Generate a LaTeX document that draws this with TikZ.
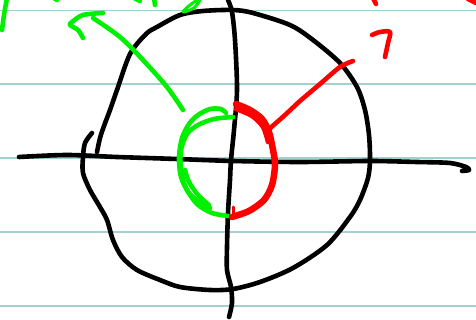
\documentclass[tikz,border=0pt]{standalone}
\definecolor{Rule}{HTML}{A3D0D0}
\definecolor{Ink}{HTML}{000000}
\definecolor{Green}{HTML}{00F000}
\definecolor{Red}{HTML}{FF0000}

\begin{document}
\begin{tikzpicture}[
  x=1pt,y=-1pt,
  rule/.style={draw=Rule,line width=1.8pt},
  ink/.style={line width=4.6pt,line cap=round,line join=round},
  pen/.style={ink,draw=Green},
  marker/.style={ink,draw=Red}
]
  \fill[white] (0,0) rectangle (476,320);
  \useasboundingbox (0,0) rectangle (476,320);
  % ruled paper
  \foreach \y in {10.5,84,158,232,306}
    \draw[rule] (0,\y) -- (476,\y);
  % axes
  \draw[ink] plot[smooth] coordinates {(19,157) (67,155) (117,157) (177,159) (233,161) (300,162) (370,161) (417,162) (450,163) (466,167) (469,170) (462,171)};
  \draw[ink] plot[smooth] coordinates {(228,0) (232,12) (235,40) (237,90) (234,130) (231,160) (230,180) (228,213) (227,247) (227,270) (231,287) (232,303) (229,317)};
  % big circle
  \draw[ink] plot[smooth] coordinates {(97,152) (100,138) (104,126) (110,110) (117,90) (130,54) (146,34) (157,27) (180,15) (203,11) (233,10) (253,13) (290,25) (313,40) (340,63) (357,87) (365,110) (369,135) (370,160) (368,178) (360,200) (350,217) (327,245) (293,268) (260,282) (233,289) (210,290) (180,287) (160,280) (137,270) (122,257) (113,240) (107,220) (100,207) (90,190) (83,173) (83,157) (85,143) (92,133)};
  % green half and arrow
  \draw[pen] plot[smooth] coordinates {(233,117) (214,119) (198,125) (187,134) (181,150) (181,170) (186,188) (197,204) (212,213) (228,216)};
  \draw[pen] plot[smooth] coordinates {(226,113) (221,109) (210,109) (198,115) (189,124) (182,138) (179,157) (181,177) (189,193) (202,204) (210,208)};
  \draw[pen] plot[smooth] coordinates {(209,205) (198,195) (189,182) (185,170)};
  \draw[pen] plot[smooth] coordinates {(183,110) (167,87) (143,60) (120,37) (93,18)};
  \draw[pen] plot[smooth] coordinates {(103,13) (83,15) (72,22) (70,25) (78,30) (83,38)};
  \draw[pen] plot[smooth] coordinates {(7,-2) (4,15) (2,30)};
  \draw[pen,line width=3pt] plot[smooth cycle] coordinates {(183,12) (190,5) (201,-2) (194,8)};
  \draw[pen] (134,-2) -- (140,1);
  \draw[pen] (154,-2) -- (155,5);
  \draw[pen] (54,-2) -- (57,0);
  % red half and arrow
  \draw[marker,line width=6.5pt] plot[smooth] coordinates {(236,104) (250,110) (262,119) (269,132) (273,150) (275,165) (272,185) (264,200) (249,211) (232,217)};
  \draw[marker] plot[smooth] coordinates {(236,109) (252,116) (263,127) (268,142)};
  \draw[marker,line width=3pt] (233,207) -- (233,214);
  \draw[marker] plot[smooth] coordinates {(268,130) (285,115) (300,101) (320,84) (340,67) (353,61)};
  \draw[marker] plot[smooth] coordinates {(372,35) (380,32) (390,32) (388,43) (385,57)};
  \draw[marker] (373,-2) -- (376,4);
  \draw[marker] (468,-1) -- (476,3);
\end{tikzpicture}
\end{document}
